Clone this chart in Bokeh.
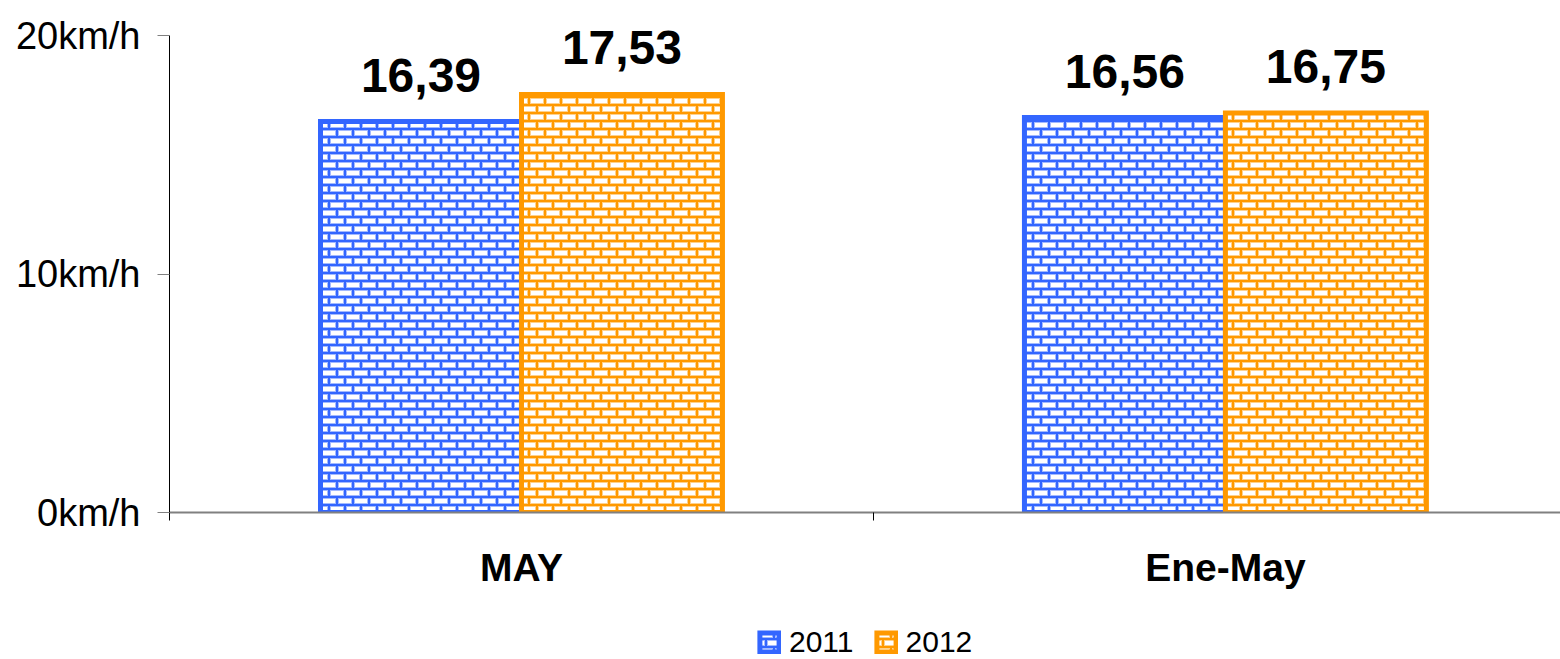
import zlib, struct, base64
from bokeh.plotting import figure
from bokeh.layouts import column
from bokeh.models import (Range1d, FixedTicker, ColumnDataSource, Legend, LegendItem,
                          ImageURLTexture, LabelSet)
from bokeh.core.properties import value
from bokeh.embed import file_html
from bokeh.resources import INLINE

# ---- data ----
categories = ["MAY", "Ene-May"]
years = ["2011", "2012"]
speed_2011 = [16.39, 16.56]
speed_2012 = [17.53, 16.75]
y_ticks = [0, 10, 20]
y_tick_labels = ["0km/h", "10km/h", "20km/h"]

BLUE = "#3366FF"
ORANGE = "#FF9900"
FONT = "Liberation Sans"


def hex_rgb(h):
    h = h.lstrip("#")
    return tuple(int(h[i:i + 2], 16) for i in (0, 2, 4))


def brick_png(color):
    c = hex_rgb(color)
    light = tuple(int(v + (255 - v) * 0.55) for v in c)
    white = (255, 255, 255)
    rows = []
    for y in range(16):
        half = y // 8
        yy = y % 8
        row = []
        for x in range(16):
            xx = (x + half * 8) % 16
            if yy in (0, 1) or xx in (0, 1):
                px = c
            elif yy in (2, 7) or xx in (2, 15):
                px = light
            else:
                px = white
            row.append(px)
        rows.append(row)
    raw = b"".join(b"\x00" + bytes([v for px in r for v in px]) for r in rows)

    def chunk(t, d):
        out = struct.pack(">I", len(d)) + t + d
        return out + struct.pack(">I", zlib.crc32(t + d) & 0xffffffff)

    ihdr = struct.pack(">IIBBBBB", 16, 16, 8, 2, 0, 0, 0)
    data = (b"\x89PNG\r\n\x1a\n" + chunk(b"IHDR", ihdr) +
            chunk(b"IDAT", zlib.compress(raw)) + chunk(b"IEND", b""))
    return "data:image/png;base64," + base64.b64encode(data).decode()


def bar_style(color, key):
    return dict(fill_color="white", line_color=color, line_width=5, line_join="miter",
                hatch_pattern=value(key),
                hatch_extra={key: ImageURLTexture(url=brick_png(color))})


bar_w = 0.2855
idx = list(range(len(categories)))
x_2011 = [i + 0.5 - bar_w / 2 for i in idx]
x_2012 = [i + 0.5 + bar_w / 2 for i in idx]

src_2011 = ColumnDataSource(dict(x=x_2011, top=speed_2011,
                                 lbl=[f"{v:.2f}".replace(".", ",") for v in speed_2011]))
src_2012 = ColumnDataSource(dict(x=x_2012, top=speed_2012,
                                 lbl=[f"{v:.2f}".replace(".", ",") for v in speed_2012]))

p = figure(width=1560, height=620, output_backend="svg", toolbar_location=None,
           x_range=Range1d(0, 1.976), y_range=Range1d(0, 21.468),
           min_border_left=169, min_border_right=0, min_border_top=0, min_border_bottom=108)
p.outline_line_color = None
p.xgrid.grid_line_color = None
p.ygrid.grid_line_color = None
p.background_fill_color = "white"
p.border_fill_color = "white"

r1 = p.vbar(x="x", top="top", width=bar_w, bottom=0, source=src_2011, **bar_style(BLUE, "brick_blue"))
r2 = p.vbar(x="x", top="top", width=bar_w, bottom=0, source=src_2012, **bar_style(ORANGE, "brick_orange"))

for src in (src_2011, src_2012):
    p.add_layout(LabelSet(x="x", y="top", text="lbl", source=src, y_offset=30,
                          text_align="center", text_baseline="alphabetic",
                          text_font=value(FONT), text_font_style="bold",
                          text_font_size="48px", text_color="black"))

# y axis
yax = p.yaxis[0]
yax.bounds = (y_ticks[0], y_ticks[-1])
yax.ticker = FixedTicker(ticks=y_ticks, minor_ticks=[])
yax.major_label_overrides = {t: l for t, l in zip(y_ticks, y_tick_labels)}
yax.major_label_text_font = FONT
yax.major_label_text_font_size = "38px"
yax.major_label_text_color = "black"
yax.major_label_standoff = 17
yax.major_tick_out = 12
yax.major_tick_in = 0
yax.major_tick_line_color = "#808080"
yax.axis_line_color = "black"
yax.axis_line_width = 1

# x axis
xax = p.xaxis[0]
xax.ticker = FixedTicker(ticks=[i + 0.5 for i in idx], minor_ticks=[i for i in range(len(categories) + 1)])
xax.major_label_overrides = {i + 0.5: c for i, c in zip(idx, categories)}
xax.major_label_text_font = FONT
xax.major_label_text_font_style = "bold"
xax.major_label_text_font_size = "39px"
xax.major_label_text_color = "black"
xax.major_label_standoff = 25
xax.major_tick_out = 0
xax.major_tick_in = 0
xax.minor_tick_out = 8
xax.minor_tick_in = 0
xax.minor_tick_line_color = "black"
xax.axis_line_color = "#808080"
xax.axis_line_width = 2

# legend strip (its frame is aligned with the main frame: starts at x=169);
# its bar renderers are hidden, only their legend swatches show
pl = figure(width=1560, height=39, output_backend="svg", toolbar_location=None,
            x_range=Range1d(0, 1.976), y_range=Range1d(0, 1),
            x_axis_location=None, y_axis_location=None,
            min_border_left=169, min_border_right=0, min_border_top=0, min_border_bottom=0)
pl.outline_line_color = None
pl.xgrid.grid_line_color = None
pl.ygrid.grid_line_color = None
l1 = pl.vbar(x="x", top="top", width=bar_w, bottom=0, source=src_2011, visible=False,
             **bar_style(BLUE, "brick_blue"))
l2 = pl.vbar(x="x", top="top", width=bar_w, bottom=0, source=src_2012, visible=False,
             **bar_style(ORANGE, "brick_orange"))
legend = Legend(items=[LegendItem(label=years[0], renderers=[l1]),
                       LegendItem(label=years[1], renderers=[l2])],
                orientation="horizontal", location=(588, 0),
                margin=0, padding=0, spacing=20, label_standoff=8,
                glyph_width=24, glyph_height=24,
                label_text_font=FONT, label_text_font_size="30px",
                label_text_color="black", inactive_fill_alpha=0,
                border_line_color=None, background_fill_alpha=0)
pl.add_layout(legend, "center")

open("out.html", "w").write(file_html(column(p, pl, spacing=0), INLINE))
